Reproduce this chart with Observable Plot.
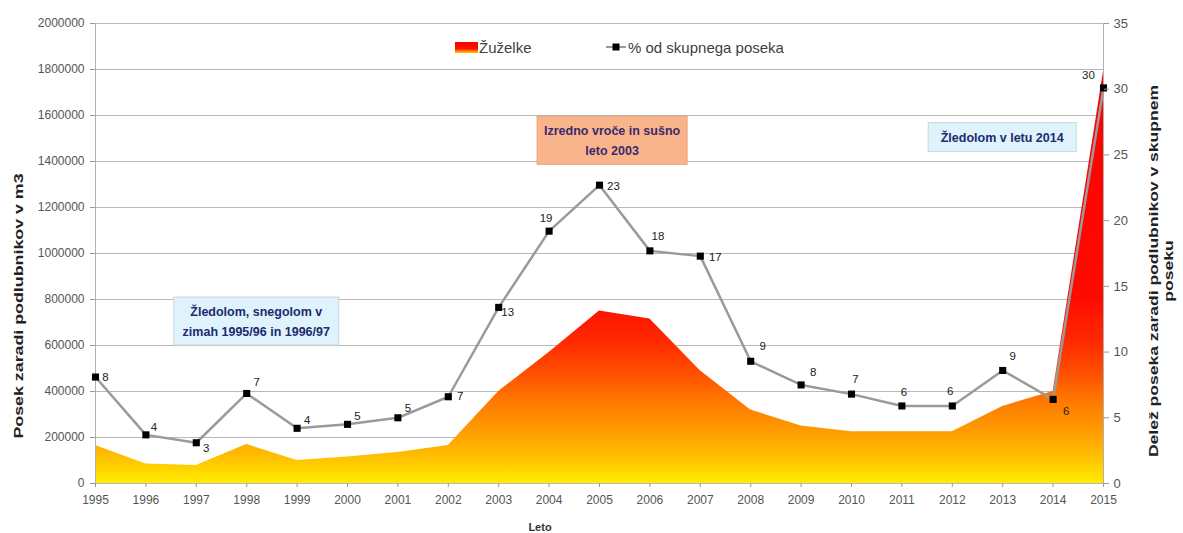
<!DOCTYPE html>
<html>
<head>
<meta charset="utf-8">
<script src="https://cdn.jsdelivr.net/npm/d3@7"></script>
<script src="https://cdn.jsdelivr.net/npm/@observablehq/plot@0.6"></script>
<style>
  html, body { margin: 0; padding: 0; background: #fff; }
  svg { display: block; }
</style>
</head>
<body>
<div id="chart"></div>
<script>
// ---- data ----
const years = [1995,1996,1997,1998,1999,2000,2001,2002,2003,2004,2005,2006,2007,2008,2009,2010,2011,2012,2013,2014,2015];
const zuzelke = [165000,85000,78000,170000,100000,115000,135000,165000,400000,570000,750000,715000,490000,320000,250000,225000,225000,225000,335000,400000,1790000];
const pctShare = [8.1,3.7,3.1,6.85,4.2,4.5,5.0,6.6,13.4,19.2,22.7,17.7,17.3,9.3,7.5,6.8,5.9,5.9,8.6,6.4,30.1];
const pctLabels = ["8","4","3","7","4","5","5","7","13","19","23","18","17","9","8","7","6","6","9","6","30"];
const leftTicks = [0,200000,400000,600000,800000,1000000,1200000,1400000,1600000,1800000,2000000];
const rightTicks = [0,5,10,15,20,25,30,35];

const LEFT_MAX = 2000000, RIGHT_MAX = 35;
const K = LEFT_MAX / RIGHT_MAX;

// label placement offsets (presentation only)
const labelOffsets = {
  1995:[10,0],1996:[8,-8],1997:[10,6],1998:[10,-11],1999:[10,-8],2000:[10,-8],2001:[10,-9],
  2002:[12,0],2003:[9,5],2004:[-3,-13],2005:[14,1],2006:[8,-15],2007:[15,1],2008:[12,-15],
  2009:[12,-13],2010:[4,-15],2011:[2,-14],2012:[-2,-15],2013:[10,-14],2014:[13,12],2015:[-15,-13]
};

const data = years.map((y,i) => ({year:y, z:zuzelke[i], p:pctShare[i], label:pctLabels[i]}));

const FONT = "'Liberation Sans', Arial, sans-serif";
const NARROW = "'Liberation Sans Narrow', 'Liberation Sans', Arial, sans-serif";

const labelMarks = data.map(d => Plot.text([d], {
  x:"year", y: e => e.p*K, text:"label",
  dx: labelOffsets[d.year][0], dy: labelOffsets[d.year][1],
  fontSize: 11.5, fill:"#222", textAnchor:"middle"
}));

const chart = Plot.plot({
  width: 1183, height: 533,
  marginLeft: 95, marginRight: 80, marginTop: 23, marginBottom: 50,
  style: {fontFamily: FONT, background:"#fff"},
  x: {domain:[1995,2015]},
  y: {domain:[0, LEFT_MAX]},
  marks: [
    Plot.gridY(leftTicks, {stroke:"#b8b8b8", strokeOpacity:1, strokeWidth:1}),
    Plot.areaY(data, {x:"year", y:"z", fill:"url(#zgrad)"}),
    Plot.ruleX([1995], {stroke:"#b0b0b0"}),
    Plot.ruleX([2015], {stroke:"#b0b0b0"}),
    Plot.line(data, {x:"year", y: d => d.p*K, stroke:"#9a9a9a", strokeWidth:2.5}),
    Plot.dot(data, {x:"year", y: d => d.p*K, symbol:"square", r:4, fill:"#000", stroke:"none"}),
    ...labelMarks,
    Plot.axisY(leftTicks, {anchor:"left", tickFormat: d => String(d), tickSize:5, stroke:"#999", fill:"#555", fontSize:12, label:null, tickPadding:6}),
    Plot.axisY(rightTicks.map(p => p*K), {anchor:"right", tickFormat: d => String(Math.round(d/K)), tickSize:5, stroke:"#999", fill:"#555", fontSize:13, label:null, tickPadding:5}),
    Plot.axisX(years, {anchor:"bottom", tickFormat: d => String(d), tickSize:4, stroke:"#999", fill:"#555", fontSize:12, label:null, tickPadding:8})
  ]
});

document.getElementById("chart").appendChild(chart);

const svg = d3.select(chart);
const xs = chart.scale("x"), ys = chart.scale("y");

// gradient defs
const defs = svg.insert("defs", ":first-child");
const g = defs.append("linearGradient").attr("id","zgrad")
  .attr("gradientUnits","userSpaceOnUse")
  .attr("x1",0).attr("x2",0)
  .attr("y1", ys.apply(1800000)).attr("y2", ys.apply(0));
[[0,"#ff0000"],[0.55,"#ff0a00"],[0.66,"#ff2a00"],[0.74,"#ff5200"],[0.8,"#ff7800"],[0.87,"#ff9a00"],[0.93,"#ffbb00"],[1,"#ffec00"]]
  .forEach(([o,c]) => g.append("stop").attr("offset",o).attr("stop-color",c));
const lg = defs.append("linearGradient").attr("id","lgrad").attr("x1",0).attr("x2",0).attr("y1",0).attr("y2",1);
[[0,"#ff0000"],[0.6,"#ff1000"],[0.85,"#ff8a00"],[1,"#ffd000"]]
  .forEach(([o,c]) => lg.append("stop").attr("offset",o).attr("stop-color",c));

const over = svg.append("g").attr("text-anchor","start");

// legend
over.append("rect").attr("x",455).attr("y",42).attr("width",23).attr("height",11).attr("fill","url(#lgrad)");
over.append("text").attr("x",479).attr("y",53).attr("text-anchor","start").text("Žuželke")
  .attr("font-family",FONT).attr("font-size",15).attr("fill","#404040");
over.append("line").attr("x1",606).attr("x2",626).attr("y1",47).attr("y2",47).attr("stroke","#9a9a9a").attr("stroke-width",2);
over.append("rect").attr("x",612.5).attr("y",43.5).attr("width",7).attr("height",7).attr("fill","#000");
over.append("text").attr("x",628).attr("y",53).attr("text-anchor","start").text("% od skupnega poseka")
  .attr("font-family",FONT).attr("font-size",15).attr("fill","#404040");

// annotation boxes (anchored in data space)
function note(year, val, w, h, lines, fill, stroke, color) {
  const cx = xs.apply(year), cy = ys.apply(val);
  over.append("rect").attr("x",cx-w/2).attr("y",cy-h/2).attr("width",w).attr("height",h)
    .attr("fill",fill).attr("stroke",stroke).attr("stroke-width",1);
  const t = over.append("text").attr("text-anchor","middle")
    .attr("font-family",NARROW).attr("font-weight","bold").attr("font-size",12.5).attr("fill",color);
  const lh = 20;
  lines.forEach((s,i) => t.append("tspan").attr("x",cx)
    .attr("y", cy + (i - (lines.length-1)/2)*lh + 4.5).text(s));
}
note(1998.2, 704000, 165, 48, ["Žledolom, snegolom v","zimah 1995/96 in 1996/97"], "#def3fb", "#c9d6dc", "#1f2a70");
note(2005.26, 1490000, 150, 48, ["Izredno vroče in sušno","leto 2003"], "#f9b48c", "#e9a27a", "#3a2a6e");
note(2013.0, 1504000, 148, 29, ["Žledolom v letu 2014"], "#def3fb", "#c9d6dc", "#1f2a70");

// axis titles (stretched along their baseline like the reference)
over.append("text").attr("transform","translate(23,306) rotate(-90) scale(1.32,1)").attr("text-anchor","middle")
  .attr("font-family",FONT).attr("font-weight","bold").attr("font-size",13.5).attr("fill","#222")
  .text("Posek zaradi podlubnikov v m3");
const rt = over.append("text").attr("transform","translate(1158,271) rotate(-90) scale(1.3,1)").attr("text-anchor","middle")
  .attr("font-family",FONT).attr("font-weight","bold").attr("font-size",13.5).attr("fill","#222");
rt.append("tspan").attr("x",0).attr("y",0).text("Delež poseka zaradi podlubnikov v skupnem");
rt.append("tspan").attr("x",0).attr("y",15).text("poseku");
over.append("text").attr("x",540).attr("y",531).attr("text-anchor","middle")
  .attr("font-family",NARROW).attr("font-weight","bold").attr("font-size",11).attr("fill","#333").text("Leto");
</script>
</body>
</html>
